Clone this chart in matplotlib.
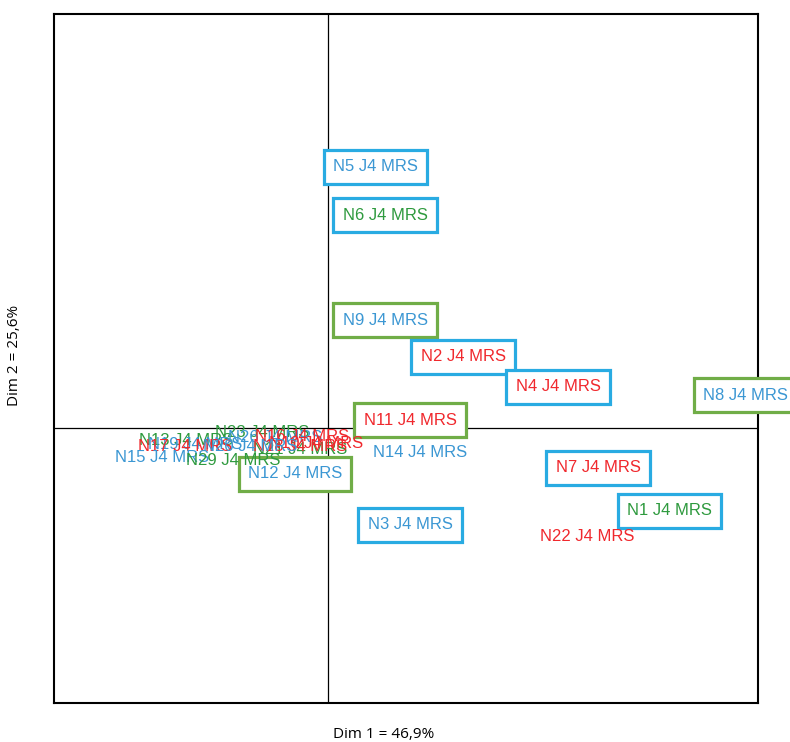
import matplotlib.pyplot as plt

# individuals on the first factorial plane
labels = ['N5', 'N6', 'N9', 'N2', 'N4', 'N8', 'N11', 'N14', 'N12', 'N7', 'N1', 'N3', 'N22',
          'N13', 'N19', 'N17', 'N15', 'N29', 'N23', 'N26', 'N16', 'N21', 'N10', 'N18', 'N20']
dim1 = [0.172, 0.208, 0.208, 0.493, 0.839, 1.522, 0.299, 0.336, -0.120, 0.985, 1.245, 0.299, 0.945,
        -0.518, -0.485, -0.522, -0.606, -0.347, -0.241, -0.193, -0.095, -0.102, -0.044, -0.102, -0.285]
dim2 = [0.953, 0.777, 0.394, 0.259, 0.150, 0.120, 0.029, -0.091, -0.168, -0.146, -0.303, -0.354, -0.398,
        -0.044, -0.062, -0.069, -0.109, -0.120, -0.015, -0.036, -0.033, -0.080, -0.058, -0.066, -0.066]
# text colour group and box colour group ('' = no box)
text_grp = ['b', 'g', 'b', 'r', 'r', 'b', 'r', 'b', 'b', 'r', 'g', 'b', 'r',
            'g', 'b', 'r', 'b', 'g', 'g', 'b', 'r', 'g', 'r', 'r', 'b']
box_grp = ['b', 'b', 'g', 'b', 'b', 'g', 'g', '', 'g', 'b', 'b', 'b', '',
           '', '', '', '', '', '', '', '', '', '', '', '']

text_col = {'b': '#3b97d3', 'g': '#2e9a3e', 'r': '#f0282d'}
box_col = {'b': '#29abe2', 'g': '#70ad47'}

fig = plt.figure(figsize=(7.9, 7.42), dpi=100)
ax = fig.add_axes([54 / 790, 39 / 742, 704 / 790, 689 / 742])
ax.set_xlim(-1.0, 1.569)
ax.set_ylim(-1.004, 1.511)
ax.axhline(0, color='black', lw=0.9)
ax.axvline(0, color='black', lw=0.9)

for i in range(len(labels)):
    kw = {}
    if box_grp[i]:
        kw['bbox'] = dict(boxstyle='square,pad=0.55', fc='white',
                          ec=box_col[box_grp[i]], lw=2.3)
    ax.text(dim1[i], dim2[i], labels[i] + ' J4 MRS', color=text_col[text_grp[i]],
            fontsize=12, family='Liberation Sans', ha='center', va='center', **kw)

ax.set_xticks([])
ax.set_yticks([])
for s in ax.spines.values():
    s.set_linewidth(1.5)

fig.text(384 / 790, 1 - 735 / 742, 'Dim 1 = 46,9%', fontsize=11, family='Open Sans', ha='center', va='center')
fig.text(15 / 790, 1 - 355 / 742, 'Dim 2 = 25,6%', fontsize=11, family='Open Sans',
         rotation=90, ha='center', va='center')

fig.savefig('out.png', dpi=100)
